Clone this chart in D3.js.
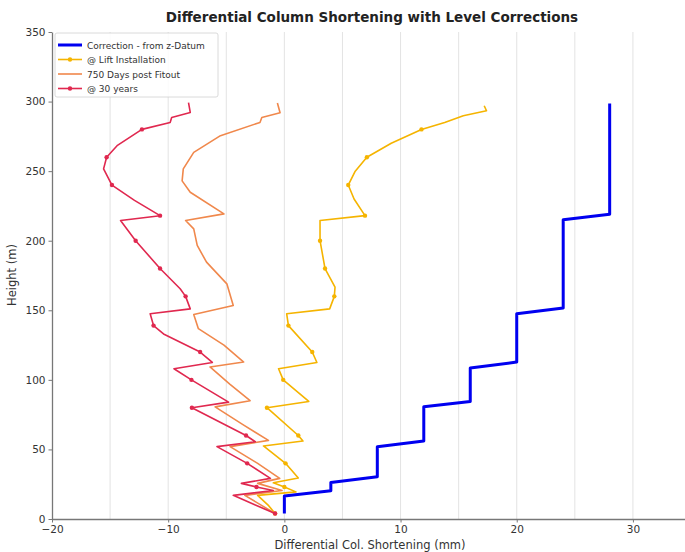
<!DOCTYPE html>
<html>
<head>
<meta charset="utf-8">
<script src="https://cdn.jsdelivr.net/npm/d3@7"></script>
<style>
  body { margin: 0; background: #fff; }
  text { font-family: "DejaVu Sans", sans-serif; }
</style>
</head>
<body>
<div class="canvas"></div>
<script>
// correction steps from z-datum
const corrH = [4, 16.5, 20.3, 26.3, 30.3, 52, 56, 80.6, 84.4, 108.5, 112.8, 147.5, 151.6, 215, 219, 298.6];
const corrV = [0, 0, 4, 4, 8, 8, 12, 12, 16, 16, 20, 20, 24, 24, 28, 28];

// @ lift installation
const liftH = [4, 10, 17, 19.5, 23, 26, 29.5, 40, 52.5, 56, 60, 80, 84.5, 100, 108, 112.5, 120, 139, 147.5, 151, 160, 166.6, 180, 200, 214.5, 218, 230, 240, 250, 260, 270, 280, 285, 289.8, 293.4, 297];
const liftV = [-0.8, -1.4, -2.3, 1.0, 0.0, -0.95, 1.2, 0.1, -1.8, 1.6, 1.2, -1.5, 2.1, -0.1, -0.5, 2.8, 2.4, 0.35, 0.2, 3.9, 4.3, 4.36, 3.5, 3.07, 3.07, 6.94, 6.0, 5.5, 6.1, 7.1, 9.2, 11.8, 13.8, 15.4, 17.4, 17.2];
const liftMarks = [4, 23, 40, 60, 80, 100, 120, 139, 160, 180, 200, 218, 240, 260, 280];

// 750 days post fitout
const fitH = [4, 10, 17, 20.5, 25.6, 29.2, 40, 52, 56.5, 68, 80.6, 85, 97, 109.3, 112.8, 125, 136.8, 147, 153.5, 169, 184.6, 196.6, 208.5, 214.5, 219.3, 234.8, 243, 251.6, 263.5, 275.5, 285, 288.6, 292, 299];
const fitV = [-0.8, -2.0, -3.4, -0.2, -2.3, -0.4, -2.3, -4.67, -1.37, -3.6, -5.96, -2.95, -4.7, -6.4, -3.5, -5.2, -7.4, -7.8, -4.4, -4.95, -6.7, -7.5, -7.8, -8.5, -5.2, -8.1, -8.8, -8.7, -7.8, -5.5, -2.1, -1.94, -0.37, -0.6];

// @ 30 years
const yrsH = [4, 10, 17, 20.5, 23, 25.6, 29.2, 40, 52, 55.5, 60, 80, 84, 100, 108, 112.5, 120, 133, 139, 147.5, 151, 160, 165.5, 180, 200, 214.5, 218, 229, 240, 251.6, 260, 268.3, 280, 285, 288.6, 292.2, 299.3];
const yrsV = [-0.8, -2.5, -4.4, -0.95, -2.4, -3.7, -1.2, -3.2, -5.8, -2.5, -3.3, -7.96, -4.8, -8.0, -9.5, -6.2, -7.25, -10.4, -11.26, -11.55, -8.1, -8.5, -8.97, -10.7, -12.8, -14.1, -10.7, -12.9, -14.84, -15.56, -15.3, -14.4, -12.26, -9.83, -9.7, -8.1, -8.25];
const yrsMarks = [4, 23, 40, 60, 80, 100, 120, 139, 160, 180, 200, 218, 240, 260, 280];

const xTicks = [-20, -10, 0, 10, 20, 30];
const xGrid = [-15, -10, -5, 0, 5, 10, 15, 20, 25, 30];
const yTicks = [0, 50, 100, 150, 200, 250, 300, 350];

const width = 685, height = 552;
const svg = d3.select(".canvas").append("svg")
  .attr("width", width).attr("height", height);

const x = d3.scaleLinear().domain([-20, 35]).range([52, 691]);
const y = d3.scaleLinear().domain([0, 350]).range([519, 32]);

// grid
svg.append("g").selectAll("line").data(xGrid).enter().append("line")
  .attr("x1", d => x(d)).attr("x2", d => x(d))
  .attr("y1", y(0)).attr("y2", y(350))
  .attr("stroke", "#dcdcdc").attr("stroke-width", 0.8);

// axes
let xAxis = svg.append("g").attr("transform", `translate(0,${y(0)})`)
  .call(d3.axisBottom(x).tickValues(xTicks).tickSize(3.5).tickSizeOuter(0));
let yAxis = svg.append("g").attr("transform", `translate(${x(-20)},0)`)
  .call(d3.axisLeft(y).tickValues(yTicks).tickSize(3.5).tickSizeOuter(0));
[xAxis, yAxis].forEach(a => {
  a.select(".domain").attr("stroke", "#777").attr("stroke-width", 1.3);
  a.selectAll(".tick line").attr("stroke", "#777");
  a.selectAll(".tick text").attr("fill", "#333").style("font-size", "10.5px");
});

const line = d3.line().x(d => x(d[1])).y(d => y(d[0]));
const zip = (hs, vs) => hs.map((h, i) => [h, vs[i]]);

const series = [
  { name: "Correction - from z-Datum", pts: zip(corrH, corrV), color: "#0000f0", w: 3, marks: [] },
  { name: "@ Lift Installation", pts: zip(liftH, liftV), color: "#f5b400", w: 1.6, marks: liftMarks },
  { name: "750 Days post Fitout", pts: zip(fitH, fitV), color: "#f0884c", w: 1.6, marks: [] },
  { name: "@ 30 years", pts: zip(yrsH, yrsV), color: "#e0284f", w: 1.6, marks: yrsMarks }
];

series.forEach(s => {
  svg.append("path").datum(s.pts)
    .attr("d", line)
    .attr("fill", "none")
    .attr("stroke", s.color)
    .attr("stroke-width", s.w)
    .attr("stroke-linejoin", "round");
  svg.append("g").selectAll("circle")
    .data(s.pts.filter(p => s.marks.includes(p[0])))
    .enter().append("circle")
    .attr("cx", d => x(d[1])).attr("cy", d => y(d[0]))
    .attr("r", 2.2).attr("fill", s.color);
});

// title and labels
svg.append("text").attr("x", 372).attr("y", 22).attr("text-anchor", "middle")
  .style("font-size", "13.5px").style("font-weight", "bold").attr("fill", "#222")
  .text("Differential Column Shortening with Level Corrections");
svg.append("text").attr("x", 370).attr("y", 549).attr("text-anchor", "middle")
  .style("font-size", "11.5px").attr("fill", "#333")
  .text("Differential Col. Shortening (mm)");
svg.append("text").attr("transform", "translate(16,275) rotate(-90)")
  .attr("text-anchor", "middle").style("font-size", "11.5px").attr("fill", "#333")
  .text("Height (m)");

// legend
const lg = svg.append("g").attr("transform", "translate(55,33)");
lg.append("rect").attr("width", 163).attr("height", 64).attr("rx", 2)
  .attr("fill", "#fff").attr("fill-opacity", 0.85)
  .attr("stroke", "#d0d0d0").attr("stroke-width", 0.8);
series.forEach((s, i) => {
  const row = lg.append("g").attr("transform", `translate(0,${12 + i * 14.5})`);
  row.append("line").attr("x1", 3).attr("x2", 27).attr("y1", 0).attr("y2", 0)
    .attr("stroke", s.color).attr("stroke-width", s.w);
  if (s.marks.length) {
    row.append("circle").attr("cx", 15).attr("cy", 0).attr("r", 2.2).attr("fill", s.color);
  }
  row.append("text").attr("x", 32).attr("y", 3.5)
    .style("font-size", "9px").attr("fill", "#333").text(s.name);
});
</script>
</body>
</html>
